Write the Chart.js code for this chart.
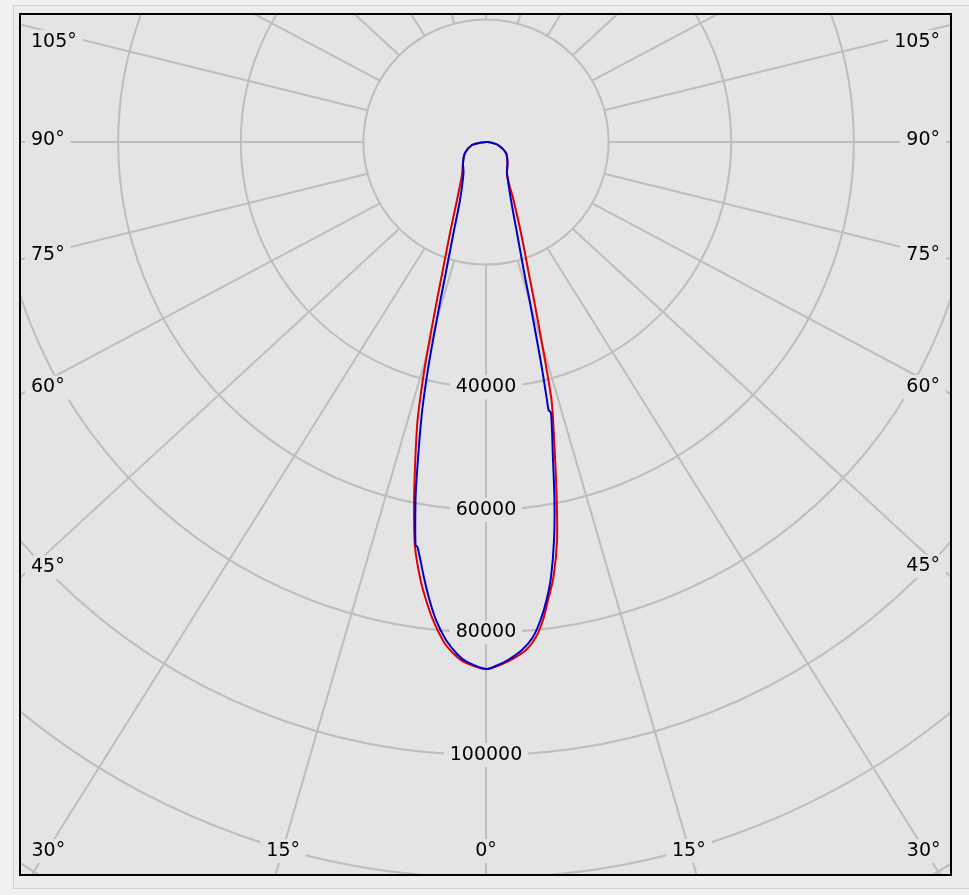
<!DOCTYPE html>
<html>
<head>
<meta charset="utf-8">
<script src="https://cdn.jsdelivr.net/npm/chart.js@4.4.1/dist/chart.umd.min.js"></script>
<style>
  body { margin: 0; background: #f0f0f0; width: 969px; height: 895px; overflow: hidden; position: relative; }
  #panel { position: absolute; left: 13px; top: 5px; width: 970px; height: 882px; border: 1px solid #d2d2d2; background: #ededed; }
  #frame { position: absolute; left: 19px; top: 13px; width: 929px; height: 859px; border: 2px solid #000; background: #e4e4e4; }
  canvas { display: block; }
</style>
</head>
<body>
<div id="panel"></div>
<div id="frame"><canvas id="polar" width="929" height="859"></canvas></div>
<script>
// gamma in degrees: negative = left half plane, positive = right half plane; intensity in cd
const redGamma = [-90, -84, -77.9, -62.36, -47.6, -36.03, -26.57, -21.58, -18.24, -17.23, -15.39, -14.35, -13.61, -11.94, -10.98, -9.94, -8.5, -7.46, -6.33, -4.74, -3.46, -2.42,
  0, 1.53, 2.76, 4.5, 5.77, 6.8, 7.71, 8.82, 10.12, 11.36, 13.32, 14.25, 15.14, 16.9, 17.86, 21.04, 25.37, 32.47, 45.67, 61.19, 75.96, 84, 90];
const redIntensity = [0, 800, 2340, 3870, 5080, 6660, 10580, 15960, 23190, 26990, 36890, 43440, 47830, 56360, 61650, 67080, 72250, 75350, 78450, 82010, 83840, 84900,
  85970, 85350, 84600, 83130, 81160, 78530, 75400, 71810, 65950, 58400, 47780, 43420, 36840, 26940, 23140, 15900, 10470, 6380, 4900, 3720, 2020, 750, 0];

const blueGamma = [-90, -84, -77.9, -62.36, -47.6, -35.97, -24.15, -19.65, -16.89, -16.07, -14.53, -13.62, -12.94, -11.62, -11.14, -9.92, -9.6, -7.99, -7.03, -5.97, -4.59, -3.12, -2.09,
  0, 1.31, 2.43, 4.05, 5.42, 6.51, 7.53, 8.5, 9.7, 10.83, 11.9, 13.49, 13.13, 13.3, 14.04, 15.39, 16.11, 18.81, 23.32, 34.11, 45.67, 61.19, 75.96, 84, 90];
const blueIntensity = [0, 800, 2340, 3870, 5080, 6250, 10370, 15760, 23020, 26820, 36740, 43300, 47700, 56290, 59520, 66740, 67010, 72150, 75280, 78400, 81500, 83810, 84880,
  85970, 85340, 84580, 83080, 81110, 78480, 75360, 71750, 65870, 59460, 53010, 45460, 44890, 43250, 36660, 26730, 22920, 15680, 10300, 6110, 4900, 3720, 2020, 750, 0];

const ringValues = [20000, 40000, 60000, 80000, 100000, 120000, 140000, 160000];
const ringLabels = [40000, 60000, 80000, 100000];
const gridAngles = [0, 15, 30, 45, 60, 75, 90, 105, 120, 135, 150, 165, 180, -15, -30, -45, -60, -75, -90, -105, -120, -135, -150, -165];
const angleLabels = [0, 15, 30, 45, 60, 75, 90, 105];

const GRID = '#bdbdbd';
const PANEL = '#e4e4e4';
const FONT = '19px "DejaVu Sans", sans-serif';

// where the pole sits inside the canvas and how many cd one pixel is
const pole = { x: 465, y: 127 };
const unitsPerPx = 163.13;
const W = 929, H = 859;

function toXY(gamma, intensity) {
  return gamma.map((g, i) => {
    const r = g * Math.PI / 180;
    return { x: intensity[i] * Math.sin(r), y: -intensity[i] * Math.cos(r) };
  });
}

function boxedText(ctx, text, px, py) {
  const w = ctx.measureText(text).width;
  ctx.fillStyle = PANEL;
  ctx.fillRect(px - w / 2 - 6, py - 12, w + 12, 24);
  ctx.fillStyle = '#000';
  ctx.fillText(text, px, py);
}

const polarGrid = {
  id: 'polarGrid',
  beforeDatasetsDraw(chart) {
    const { ctx, chartArea: a, scales: { x, y } } = chart;
    const cx = x.getPixelForValue(0), cy = y.getPixelForValue(0);
    const rad = v => x.getPixelForValue(v) - cx;
    const r0 = rad(ringValues[0]);
    const k = (a.bottom - a.top) / (a.right - a.left);

    ctx.save();
    ctx.beginPath();
    ctx.rect(a.left, a.top, a.right - a.left, a.bottom - a.top);
    ctx.clip();
    ctx.strokeStyle = GRID;
    ctx.lineWidth = 2;

    // spokes start on the inner ring and run out to the frame
    gridAngles.forEach(g => {
      const t = g * Math.PI / 180, s = Math.sin(t), c = Math.cos(t);
      const far = rad(400000);
      ctx.beginPath();
      ctx.moveTo(cx + r0 * s, cy + r0 * c);
      ctx.lineTo(cx + far * s, cy + far * k * c);
      ctx.stroke();
    });

    ringValues.forEach(v => {
      ctx.beginPath();
      ctx.arc(cx, cy, rad(v), 0, Math.PI * 2);
      ctx.stroke();
    });

    ctx.font = FONT;
    ctx.textAlign = 'center';
    ctx.textBaseline = 'middle';
    ringLabels.forEach(v => boxedText(ctx, String(v), cx, cy + rad(v)));

    angleLabels.forEach(g => {
      const sides = g === 0 ? [1] : [-1, 1];
      sides.forEach(side => {
        const text = g + '°';
        const w = ctx.measureText(text).width;
        const t = g * Math.PI / 180, s = Math.sin(t), c = Math.cos(t);
        const x0 = cx + side * r0 * s, y0 = cy + r0 * c;
        const dx = side * s, dy = k * c;
        const xb = side < 0 ? a.left + 10 : a.right - 10;
        const yb = a.bottom - 23;
        let tx = Infinity, ty = Infinity;
        if (Math.abs(dx) > 1e-6) { const v = (xb - x0) / dx; if (v > 0) tx = v; }
        if (dy > 1e-6) { const v = (yb - y0) / dy; if (v > 0) ty = v; }
        if (ty <= tx) {
          boxedText(ctx, text, x0 + ty * dx, yb);
        } else {
          const py = Math.max(a.top + 27, y0 + tx * dy - 2);
          boxedText(ctx, text, xb - side * w / 2, py);
        }
      });
    });
    ctx.restore();
  }
};

new Chart(document.getElementById('polar'), {
  type: 'scatter',
  data: {
    datasets: [
      { label: 'C90-C270', data: toXY(blueGamma, blueIntensity), showLine: true, borderColor: '#0000cc',
        borderWidth: 2, pointRadius: 0, tension: 0.3, fill: false },
      { label: 'C0-C180', data: toXY(redGamma, redIntensity), showLine: true, borderColor: '#e00000',
        borderWidth: 2, pointRadius: 0, tension: 0.3, fill: false }
    ]
  },
  options: {
    responsive: false,
    animation: false,
    events: [],
    layout: { padding: 0 },
    plugins: { legend: { display: false }, tooltip: { enabled: false } },
    scales: {
      x: { type: 'linear', display: false, min: -pole.x * unitsPerPx, max: (W - pole.x) * unitsPerPx },
      y: { type: 'linear', display: false, min: -(H - pole.y) * unitsPerPx, max: pole.y * unitsPerPx }
    }
  },
  plugins: [polarGrid]
});
</script>
</body>
</html>
